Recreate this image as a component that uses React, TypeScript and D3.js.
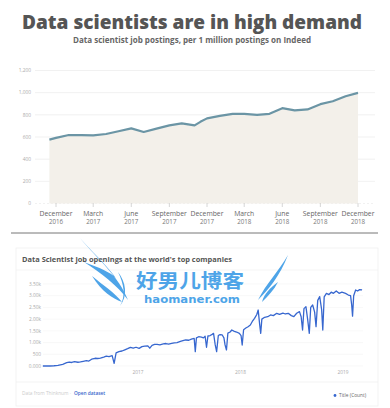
import * as d3 from 'd3';
import { useEffect, useRef } from 'react';

// top chart: Indeed postings per 1M
const indeedDates = ['2016-11-15', '2016-12-01', '2017-01-01', '2017-02-01', '2017-03-01', '2017-04-01', '2017-05-01',
  '2017-06-01', '2017-07-01', '2017-08-01', '2017-09-01', '2017-10-01', '2017-11-01', '2017-11-15', '2017-12-01',
  '2018-01-01', '2018-02-01', '2018-03-01', '2018-04-01', '2018-05-01', '2018-06-01', '2018-07-01', '2018-08-01',
  '2018-09-01', '2018-10-01', '2018-11-01', '2018-12-01'];
const indeedValues = [576, 592, 618, 617, 615, 627, 652, 678, 645, 675, 705, 723, 705, 737, 768,
  791, 809, 809, 800, 809, 860, 840, 849, 896, 923, 968, 998];
const indeedYTicks = [0, 200, 400, 600, 800, 1000, 1200];
const indeedXTicks = ['2016-12-01', '2017-03-01', '2017-06-01', '2017-09-01', '2017-12-01',
  '2018-03-01', '2018-06-01', '2018-09-01', '2018-12-01'];
const indeedXLabels = [['December', '2016'], ['March', '2017'], ['June', '2017'], ['September', '2017'],
  ['December', '2017'], ['March', '2018'], ['June', '2018'], ['September', '2018'], ['December', '2018']];

// bottom chart: Thinknum openings
const openDates = ['2016-01-28', '2016-02-08', '2016-02-22', '2016-03-08', '2016-03-22', '2016-04-08', '2016-04-22',
  '2016-05-01', '2016-05-10', '2016-05-20', '2016-06-01', '2016-06-10', '2016-06-20', '2016-07-01', '2016-07-10',
  '2016-07-20', '2016-08-01', '2016-08-10', '2016-08-20', '2016-09-01', '2016-09-10', '2016-09-20', '2016-10-01',
  '2016-10-08', '2016-10-15', '2016-10-25', '2016-11-05', '2016-11-15', '2016-11-25', '2016-12-05', '2016-12-15',
  '2016-12-25',
  '2017-01-05', '2017-01-15', '2017-01-25', '2017-02-05', '2017-02-12', '2017-02-20', '2017-03-01', '2017-03-10',
  '2017-03-20', '2017-04-01', '2017-04-10', '2017-04-20', '2017-05-01', '2017-05-10', '2017-05-20', '2017-06-01',
  '2017-06-10', '2017-06-20', '2017-07-01', '2017-07-10', '2017-07-20', '2017-07-24', '2017-07-28', '2017-08-05',
  '2017-08-15', '2017-08-22', '2017-08-28', '2017-09-02', '2017-09-07', '2017-09-15', '2017-09-22', '2017-09-27',
  '2017-10-03', '2017-10-08', '2017-10-14', '2017-10-20', '2017-10-28', '2017-11-03', '2017-11-07', '2017-11-12',
  '2017-11-17', '2017-11-25', '2017-12-01', '2017-12-10', '2017-12-18', '2017-12-28',
  '2018-01-03', '2018-01-07', '2018-01-12', '2018-01-20', '2018-01-28', '2018-02-05', '2018-02-12', '2018-02-20',
  '2018-02-28', '2018-03-05', '2018-03-10', '2018-03-14', '2018-03-18', '2018-03-28', '2018-04-08', '2018-04-18',
  '2018-04-28', '2018-05-10', '2018-05-20', '2018-06-01', '2018-06-10', '2018-06-20', '2018-07-01', '2018-07-10',
  '2018-07-20', '2018-07-30', '2018-08-05', '2018-08-10', '2018-08-15', '2018-08-22', '2018-08-28', '2018-09-03',
  '2018-09-08', '2018-09-15', '2018-09-22', '2018-09-27', '2018-10-03', '2018-10-10', '2018-10-17', '2018-10-21',
  '2018-10-26', '2018-11-03', '2018-11-12', '2018-11-20', '2018-11-28', '2018-12-08', '2018-12-18', '2018-12-28',
  '2019-01-10', '2019-01-20', '2019-01-28', '2019-02-01', '2019-02-04', '2019-02-08', '2019-02-15', '2019-02-22',
  '2019-03-01', '2019-03-10'];
const openValues = [0, 0, 0, 10, 30, 72, 140,
  170, 150, 190, 160, 175, 200, 230, 210,
  290, 330, 320, 340, 380, 420, 400, 440,
  113, 560, 612, 640, 690, 740, 797, 760,
  800,
  754, 825, 850, 860, 760, 880, 920, 925,
  900, 940, 960, 930, 967, 990, 1000, 1050,
  1080, 1110, 1100, 1150, 1180, 612, 1200, 1250,
  1230, 1200, 1270, 800, 1280, 1300, 1350, 1395,
  900, 612, 1300, 1340, 1325, 1200, 900, 683,
  1400, 1450, 1536, 1480, 1450, 1395,
  1300, 896, 1550, 1620, 1678, 1750, 1900, 2035,
  2200, 2390, 1800, 1395, 2000, 2080, 2104, 2180,
  2150, 2250, 2200, 2260, 2220, 2250, 2150, 2104,
  2250, 2320, 2100, 1536, 2450, 2533, 2000, 1395,
  2500, 2603, 2300, 1678, 2800, 2960, 2400, 1536,
  2950, 3100, 3050, 3150, 3100, 3200, 3100, 3150,
  3100, 3030, 3000, 2600, 2130, 3000, 3245, 3200,
  3260, 3245];
const openYTicks = [0, 500, 1000, 1500, 2000, 2500, 3000, 3500];
const openYLabels = ['0.000', '500', '1.00k', '1.50k', '2.00k', '2.50k', '3.00k', '3.50k'];
const openXTicks = ['2017-01-01', '2018-01-01', '2019-01-01'];
const openXLabels = ['2017', '2018', '2019'];

function App() {
  const svgRef = useRef(null);

  useEffect(() => {
    const svg = d3.select(svgRef.current);
    svg.selectAll('*').remove();
    const parse = d3.timeParse('%Y-%m-%d');

    // titles
    svg.append('text')
      .attr('x', 192).attr('y', 29)
      .attr('text-anchor', 'middle')
      .attr('font-family', '"Open Sans", sans-serif')
      .attr('font-weight', 800)
      .attr('font-size', 20)
      .attr('fill', '#555')
      .attr('textLength', 340).attr('lengthAdjust', 'spacingAndGlyphs')
      .text('Data scientists are in high demand');
    svg.append('text')
      .attr('x', 192).attr('y', 43)
      .attr('text-anchor', 'middle')
      .attr('font-family', '"Open Sans", sans-serif')
      .attr('font-weight', 700)
      .attr('font-size', 8.2)
      .attr('fill', '#666')
      .attr('textLength', 238).attr('lengthAdjust', 'spacingAndGlyphs')
      .text('Data scientist job postings, per 1 million postings on Indeed');

    // ---- top chart
    const data1 = indeedDates.map((d, i) => ({ date: parse(d), v: indeedValues[i] }));
    const x1 = d3.scaleTime().domain([parse('2016-12-01'), parse('2018-12-01')]).range([56, 358]);
    const y1 = d3.scaleLinear().domain([0, 1200]).range([203.5, 70.5]);
    const g1 = svg.append('g').attr('font-family', '"Open Sans", sans-serif');

    g1.selectAll('.grid').data(indeedYTicks).join('line')
      .attr('x1', 35).attr('x2', 375)
      .attr('y1', d => y1(d)).attr('y2', d => y1(d))
      .attr('stroke', '#eeeeee').attr('stroke-width', 0.8)
      .attr('stroke-dasharray', d => d === 0 ? '2,2' : null);
    g1.selectAll('.ylab').data(indeedYTicks).join('text')
      .attr('x', 31).attr('y', d => y1(d) + 1.8)
      .attr('text-anchor', 'end')
      .attr('font-size', 4.8).attr('fill', '#aaa')
      .text(d => d3.format(',')(d));

    const area = d3.area().x(d => x1(d.date)).y0(y1(0)).y1(d => y1(d.v));
    const line = d3.line().x(d => x1(d.date)).y(d => y1(d.v));
    g1.append('path').datum(data1).attr('d', area).attr('fill', '#f3f0ea');
    g1.append('path').datum(data1).attr('d', line)
      .attr('fill', 'none').attr('stroke', '#6b95a5').attr('stroke-width', 2.2)
      .attr('stroke-linejoin', 'round');

    indeedXTicks.forEach((t, i) => {
      const xx = x1(parse(t));
      g1.append('line').attr('x1', xx).attr('x2', xx).attr('y1', 203).attr('y2', 207)
        .attr('stroke', '#ccc').attr('stroke-width', 0.8);
      g1.append('text').attr('x', xx).attr('y', 216).attr('text-anchor', 'middle')
        .attr('font-size', 6.8).attr('fill', '#666').text(indeedXLabels[i][0]);
      g1.append('text').attr('x', xx).attr('y', 224).attr('text-anchor', 'middle')
        .attr('font-size', 6.2).attr('fill', '#777').text(indeedXLabels[i][1]);
    });

    svg.append('line').attr('x1', 11).attr('x2', 378).attr('y1', 233).attr('y2', 233)
      .attr('stroke', '#777').attr('stroke-width', 1);

    // ---- bottom card
    const g2 = svg.append('g').attr('font-family', '"Open Sans", sans-serif');
    g2.append('rect').attr('x', 16).attr('y', 248).attr('width', 362).attr('height', 158)
      .attr('fill', '#fff').attr('stroke', '#efefef').attr('stroke-width', 0.8);
    g2.append('text').attr('x', 22).attr('y', 262)
      .attr('font-size', 7.4).attr('font-weight', 700).attr('fill', '#555')
      .attr('textLength', 210).attr('lengthAdjust', 'spacingAndGlyphs')
      .text("Data Scientist job openings at the world's top companies");
    g2.append('line').attr('x1', 16).attr('x2', 378).attr('y1', 270).attr('y2', 270)
      .attr('stroke', '#f3f3f3').attr('stroke-width', 0.8);

    const data2 = openDates.map((d, i) => ({ date: parse(d), v: openValues[i] }));
    const x2 = d3.scaleTime().domain([parse('2017-01-01'), parse('2019-01-01')]).range([138, 343]);
    const y2 = d3.scaleLinear().domain([0, 3500]).range([366, 284]);

    g2.selectAll('.grid2').data(openYTicks).join('line')
      .attr('x1', 43).attr('x2', 363)
      .attr('y1', d => y2(d)).attr('y2', d => y2(d))
      .attr('stroke', '#f4f4f4').attr('stroke-width', 0.6);
    g2.selectAll('.ylab2').data(openYTicks).join('text')
      .attr('x', 41).attr('y', d => y2(d) + 1.7)
      .attr('text-anchor', 'end')
      .attr('font-size', 4.8).attr('fill', '#aaa')
      .text((d, i) => openYLabels[i]);
    g2.selectAll('.xlab2').data(openXTicks).join('text')
      .attr('x', d => x2(parse(d))).attr('y', 374)
      .attr('text-anchor', 'middle')
      .attr('font-size', 4.8).attr('fill', '#aaa')
      .text((d, i) => openXLabels[i]);

    const line2 = d3.line().x(d => x2(d.date)).y(d => y2(d.v));
    g2.append('path').datum(data2).attr('d', line2)
      .attr('fill', 'none').attr('stroke', '#3767cf').attr('stroke-width', 1.3)
      .attr('stroke-linejoin', 'round');

    g2.append('line').attr('x1', 16).attr('x2', 378).attr('y1', 382).attr('y2', 382)
      .attr('stroke', '#f0f0f0').attr('stroke-width', 0.8);
    g2.append('text').attr('x', 22).attr('y', 395)
      .attr('font-size', 4.8).attr('fill', '#ccc').text('Data from Thinknum  ·');
    g2.append('text').attr('x', 74).attr('y', 395)
      .attr('font-size', 4.8).attr('font-weight', 600).attr('fill', '#3a66cc').text('Open dataset');
    g2.append('circle').attr('cx', 335).attr('cy', 395.5).attr('r', 1.4).attr('fill', '#3767cf');
    g2.append('text').attr('x', 339).attr('y', 397.2)
      .attr('font-size', 4.8).attr('fill', '#666').text('Title (Count)');

    // watermark
    const wm = svg.append('g').attr('fill', '#3b9be6').attr('opacity', 0.9);
    wm.append('path')
      .attr('d', 'M80,238 C100,262 118,275 128,300 C118,286 100,272 84,262 C100,268 110,272 116,278 C104,262 90,250 80,238 Z');
    wm.append('path')
      .attr('d', 'M92,276 C104,286 114,292 122,302 C112,298 102,292 92,276 Z');
    wm.append('path')
      .attr('d', 'M118,272 C126,282 128,296 120,306 C126,296 124,284 118,272 Z');
    wm.append('path')
      .attr('d', 'M288,255 C278,272 266,284 258,300 C268,290 280,276 288,255 Z');
    wm.append('path')
      .attr('d', 'M278,282 C270,288 264,294 262,302 C268,296 274,290 278,282 Z');
    wm.append('text').attr('x', 136).attr('y', 288)
      .attr('font-family', '"Noto Sans CJK SC", sans-serif').attr('font-weight', 700)
      .attr('font-size', 19).attr('textLength', 108).attr('lengthAdjust', 'spacingAndGlyphs')
      .text('好男儿博客');
    wm.append('text').attr('x', 144).attr('y', 303)
      .attr('font-family', '"DejaVu Sans", sans-serif').attr('font-weight', 700)
      .attr('font-size', 11).attr('textLength', 96).attr('lengthAdjust', 'spacingAndGlyphs')
      .text('haomaner.com');
  }, []);

  return (
    <div style={{ position: 'absolute', left: 0, top: 0 }}>
      <svg ref={svgRef} width={390} height={408} style={{ display: 'block', background: '#fff' }}></svg>
    </div>
  );
}

export default App;
